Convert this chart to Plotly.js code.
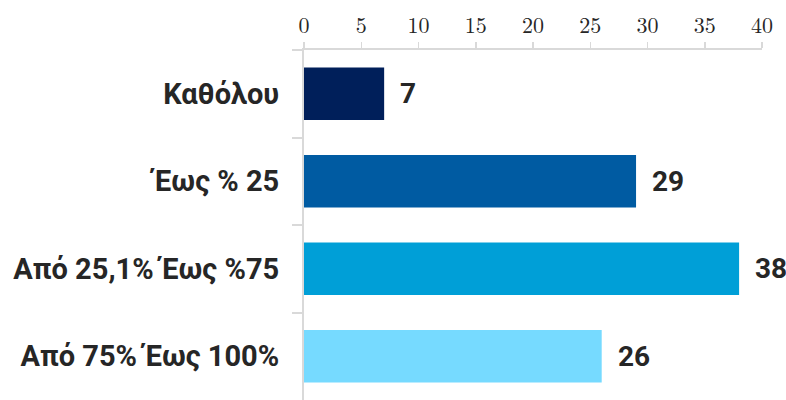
<!DOCTYPE html>
<html>
<head>
<meta charset="utf-8">
<script src="https://cdn.plot.ly/plotly-3.0.1.min.js"></script>
<style>html,body{margin:0;padding:0;background:#fff;}#chart{width:786px;height:400px;}</style>
</head>
<body>
<div id="chart"></div>
<script>
const categories = ["Καθόλου", "Έως % 25", "Από 25,1% Έως %75", "Από 75% Έως 100%"];
const values = [7, 29, 38, 26];
const barColors = ["#001F5A", "#005BA2", "#009FD7", "#76DAFF"];
const tickValues = [0, 5, 10, 15, 20, 25, 30, 35, 40];

const labelFont = {family: "Roboto, 'Liberation Sans', sans-serif", size: 29, color: "#262626", weight: "bold"};
const valueFont = {family: "Roboto, 'Liberation Sans', sans-serif", size: 28, color: "#262626", weight: "bold"};

const trace = {
  type: "bar",
  orientation: "h",
  x: values,
  y: categories,
  width: 0.6,
  marker: {color: barColors},
  hoverinfo: "none"
};

const annotations = values.map((v, i) => ({
  x: v, y: categories[i], xref: "x", yref: "y",
  text: String(v), showarrow: false, xanchor: "left", yanchor: "middle",
  xshift: 14, font: valueFont
}));

const layout = {
  width: 786, height: 400,
  margin: {l: 304, r: 24, t: 50, b: 0, pad: 0},
  paper_bgcolor: "#fff", plot_bgcolor: "#fff",
  showlegend: false,
  xaxis: {
    side: "top", range: [0, 40], tickvals: tickValues,
    showgrid: false, zeroline: false, showline: true,
    linecolor: "#d9d9d9", linewidth: 2,
    ticks: "outside", ticklen: 6, tickwidth: 1.5, tickcolor: "#d9d9d9",
    tickfont: {family: "'Latin Modern Roman', 'Liberation Serif', 'DejaVu Serif', serif", size: 22, color: "#262626"},
    fixedrange: true
  },
  yaxis: {
    autorange: "reversed", range: [3.5, -0.5],
    showgrid: false, zeroline: false, showline: true,
    linecolor: "#d9d9d9", linewidth: 2,
    ticks: "outside", tickson: "boundaries", ticklen: 10, tickwidth: 2, tickcolor: "#d9d9d9",
    ticklabelstandoff: 17,
    tickfont: labelFont,
    fixedrange: true
  },
  annotations: annotations
};

Plotly.newPlot("chart", [trace], layout, {staticPlot: true, displayModeBar: false});
</script>
</body>
</html>
